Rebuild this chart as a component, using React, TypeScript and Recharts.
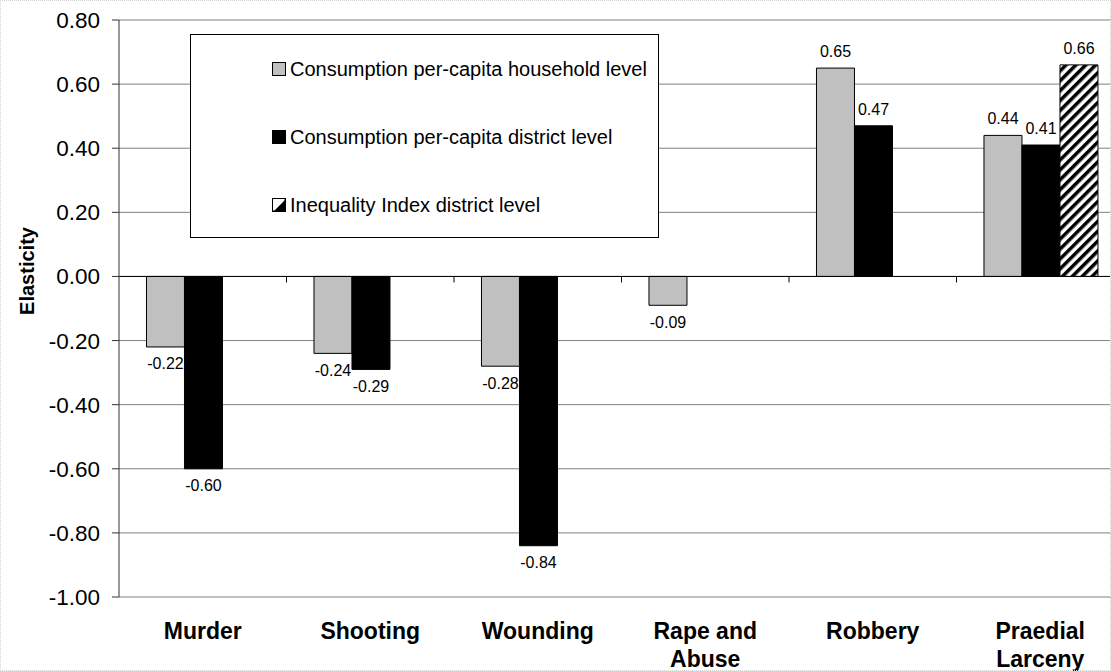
import React from "react";
import { BarChart, Bar, XAxis, YAxis, CartesianGrid, ReferenceLine, Legend, LabelList } from "recharts";

const categories = ["Murder", "Shooting", "Wounding", "Rape and Abuse", "Robbery", "Praedial Larceny"];
const householdConsumption = [-0.22, -0.24, -0.28, -0.09, 0.65, 0.44];
const districtConsumption = [-0.6, -0.29, -0.84, null, 0.47, 0.41];
const districtInequality = [null, null, null, null, null, 0.66];
const yTicks = [0.8, 0.6, 0.4, 0.2, 0, -0.2, -0.4, -0.6, -0.8, -1.0];

const seriesNames = [
  "Consumption per-capita household level",
  "Consumption per-capita district level",
  "Inequality Index district level",
];

const data = categories.map((category, i) => ({
  category,
  household: householdConsumption[i],
  district: districtConsumption[i],
  inequality: districtInequality[i],
}));

const FONT = "'Liberation Sans', Arial, Helvetica, sans-serif";

const fmt = (v: any) => (v === null || v === undefined ? "" : Number(v).toFixed(2));

function CategoryTick({ x, y, payload }: any) {
  const words = String(payload.value).split(" ");
  const lines = words.length > 1 ? [words.slice(0, -1).join(" "), words[words.length - 1]] : words;
  return (
    <text x={x} y={y} textAnchor="middle" fontFamily={FONT} fontWeight="bold" fontSize={23} fill="#000">
      {lines.map((l, i) => (
        <tspan key={i} x={x} dy={i === 0 ? 34 : 28}>
          {l}
        </tspan>
      ))}
    </text>
  );
}

// zero line with the small category ticks hanging below it
function ZeroAxis(props: any) {
  const { x1, y1, x2 } = props;
  const step = (x2 - x1) / categories.length;
  return (
    <g>
      <line x1={x1} y1={y1} x2={x2} y2={y1} stroke="#000" strokeWidth={1} />
      {categories.map((_, i) => (
        <line key={i} x1={x1 + step * (i + 1)} y1={y1} x2={x1 + step * (i + 1)} y2={y1 + 6} stroke="#000" />
      ))}
    </g>
  );
}

function LegendIcon({ idx }: { idx: number }) {
  if (idx === 2) {
    return (
      <svg width={14} height={14} style={{ marginRight: 4, flex: "none" }}>
        <rect x={0.5} y={0.5} width={13} height={13} fill="#fff" stroke="#000" />
        <polygon points="13.5,0.5 13.5,13.5 0.5,13.5" fill="#000" />
        <line x1={2} y1={12} x2={12} y2={2} stroke="#fff" strokeWidth={1.5} />
      </svg>
    );
  }
  return (
    <svg width={14} height={14} style={{ marginRight: 4, flex: "none" }}>
      <rect x={0.5} y={0.5} width={13} height={13} fill={idx === 0 ? "#C0C0C0" : "#000"} stroke="#000" />
    </svg>
  );
}

function LegendBox() {
  return (
    <div
      style={{
        width: 469,
        height: 204,
        boxSizing: "border-box",
        border: "1px solid #000",
        background: "#fff",
        fontFamily: FONT,
        fontSize: 20,
        color: "#000",
        paddingLeft: 81,
        paddingTop: 22,
      }}
    >
      {seriesNames.map((name, i) => (
        <div key={name} style={{ display: "flex", alignItems: "center", height: 24, marginBottom: i < 2 ? 44 : 0, whiteSpace: "nowrap" }}>
          <LegendIcon idx={i} />
          <span>{name}</span>
        </div>
      ))}
    </div>
  );
}

export default function App() {
  return (
    <div style={{ position: "absolute", left: 0, top: 0, width: 1111, height: 671, overflow: "hidden", background: "#fff" }}>
      <BarChart
        width={1130}
        height={671}
        data={data}
        margin={{ top: 20, right: 6, bottom: 0, left: 0 }}
        barCategoryGap="16.4%"
        barGap={0}
      >
        <defs>
          <pattern id="hatch" patternUnits="userSpaceOnUse" width={7} height={7} patternTransform="rotate(45)">
            <rect width={7} height={7} fill="#fff" />
            <rect width={3.5} height={7} fill="#000" />
          </pattern>
        </defs>
        <CartesianGrid horizontal vertical={false} stroke="#808080" />
        <XAxis
          dataKey="category"
          axisLine={false}
          tickLine={false}
          interval={0}
          height={74}
          tick={<CategoryTick />}
        />
        <YAxis
          width={119}
          domain={[-1, 0.8]}
          ticks={yTicks}
          interval={0}
          tickFormatter={fmt}
          axisLine={{ stroke: "#333" }}
          tickLine={{ stroke: "#333" }}
          tickSize={7}
          tickMargin={12}
          tick={{ fill: "#000", fontSize: 22.5, fontFamily: FONT }}
          label={(p: any) => {
            const vb = p.viewBox || { x: 0, y: 20, height: 577 };
            const cx = vb.x + 27;
            const cy = vb.y + vb.height * 0.435;
            return (
              <text
                x={cx}
                y={cy}
                transform={`rotate(-90 ${cx} ${cy})`}
                textAnchor="middle"
                dominantBaseline="central"
                fontFamily={FONT}
                fontWeight="bold"
                fontSize={20}
                fill="#000"
              >
                Elasticity
              </text>
            );
          }}
        />
        <Legend
          layout="vertical"
          align="center"
          verticalAlign="middle"
          wrapperStyle={{ left: 190, top: 34, width: 469, height: 204 }}
          content={<LegendBox />}
        />
        <Bar dataKey="household" name={seriesNames[0]} fill="#C0C0C0" stroke="#000" strokeWidth={1} isAnimationActive={false}>
          <LabelList dataKey="household" position="top" offset={11} formatter={fmt} fill="#000" fontSize={16} fontFamily={FONT} />
        </Bar>
        <Bar dataKey="district" name={seriesNames[1]} fill="#000" stroke="#000" strokeWidth={1} isAnimationActive={false}>
          <LabelList dataKey="district" position="top" offset={11} formatter={fmt} fill="#000" fontSize={16} fontFamily={FONT} />
        </Bar>
        <Bar dataKey="inequality" name={seriesNames[2]} fill="url(#hatch)" stroke="#000" strokeWidth={1} isAnimationActive={false}>
          <LabelList dataKey="inequality" position="top" offset={11} formatter={fmt} fill="#000" fontSize={16} fontFamily={FONT} />
        </Bar>
        <ReferenceLine y={0} stroke="#000" shape={<ZeroAxis />} />
      </BarChart>
      <div
        style={{
          position: "absolute",
          inset: 0,
          border: "1px dotted #d4d4d4",
          pointerEvents: "none",
        }}
      />
    </div>
  );
}
